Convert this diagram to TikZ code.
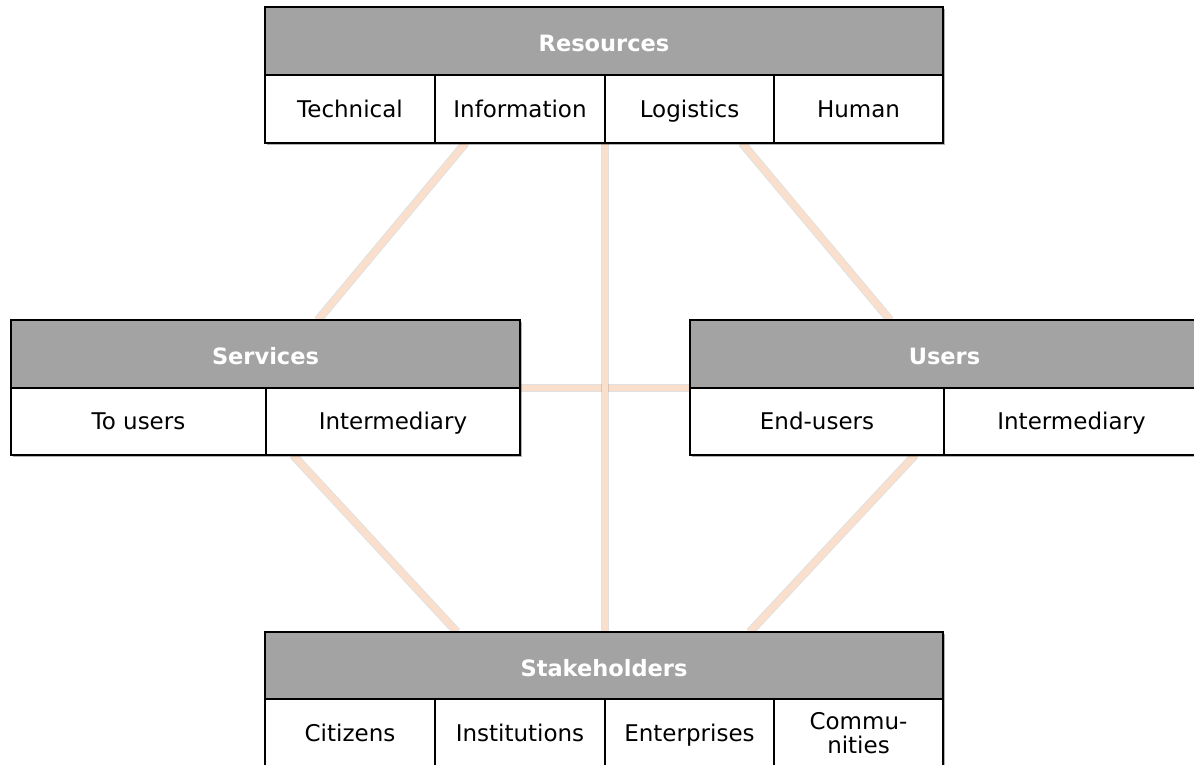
\documentclass[tikz,border=0pt]{standalone}
\usepackage{fontspec}
\setmainfont{DejaVu Sans}
\usetikzlibrary{calc,shadows}
\definecolor{hdrgray}{HTML}{A3A3A3}
\definecolor{linkpeach}{HTML}{FAE0CC}
\pgfdeclarelayer{bg}
\pgfsetlayers{bg,main}

\begin{document}
\begin{tikzpicture}[x=1pt,y=-1pt,
  boxshadow/.style={drop shadow={shadow xshift=1.5pt, shadow yshift=-1.5pt, opacity=0.3, fill=black}},
  hdr/.style={draw=black, line width=1.8pt, fill=hdrgray, text=white,
    font=\fontsize{22.5}{24}\selectfont\bfseries, minimum height=68,
    text height=21pt, text depth=0pt,
    inner sep=0pt, outer sep=0pt, anchor=north west, boxshadow},
  cellbase/.style={draw=black, line width=1.8pt, fill=white,
    font=\fontsize{23}{23.5}\selectfont, minimum height=68, align=center,
    inner sep=0pt, outer sep=0pt, anchor=north west, boxshadow},
  cell/.style={cellbase, text height=16.8pt, text depth=0pt},
  link/.style={draw=linkpeach, line width=6.5pt,
    preaction={draw=black, opacity=0.12, line width=8.5pt}}
]
\useasboundingbox (0,0) rectangle (1194,764);
\clip (0,0) rectangle (1194,764);

% Resources table
\node[hdr, minimum width=678] (res) at (265,7) {Resources};
\node[cell, minimum width=170] (resTech) at (265,75) {Technical};
\node[cell, minimum width=170] (resInfo) at (435,75) {Information};
\node[cell, minimum width=169] (resLog) at (605,75) {Logistics};
\node[cell, minimum width=169] (resHum) at (774,75) {Human};

% Services table
\node[hdr, minimum width=509] (srv) at (11,320) {Services};
\node[cell, minimum width=255, minimum height=67] (srvUsr) at (11,388) {To users};
\node[cell, minimum width=254, minimum height=67] (srvInt) at (266,388) {Intermediary};

% Users table
\node[hdr, minimum width=509] (usr) at (690,320) {Users};
\node[cell, minimum width=254, minimum height=67] (usrEnd) at (690,388) {End-users};
\node[cell, minimum width=255, minimum height=67] (usrInt) at (944,388) {Intermediary};

% Stakeholders table
\node[hdr, minimum width=678, minimum height=67] (stk) at (265,632) {Stakeholders};
\node[cell, minimum width=170] (stkCit) at (265,699) {Citizens};
\node[cell, minimum width=170] (stkIns) at (435,699) {Institutions};
\node[cell, minimum width=169] (stkEnt) at (605,699) {Enterprises};
\node[cellbase, minimum width=169] (stkCom) at (774,699) {Commu-\\nities};

% Connectors behind the tables
\begin{pgfonlayer}{bg}
\draw[link] ($(resInfo.south west)!0.18!(resInfo.south east)$) -- ($(srv.north west)!0.603!(srv.north east)$);
\draw[link] ($(resLog.south west)!0.81!(resLog.south east)$) -- ($(usr.north west)!0.393!(usr.north east)$);
\draw[link] (srv.south east) -- (usr.south west);
\draw[link] (resInfo.south east) -- (resInfo.south east |- stk.north);
\draw[link] ($(srvInt.south west)!0.106!(srvInt.south east)$) -- ($(stk.north west)!0.283!(stk.north east)$);
\draw[link] ($(usrEnd.south west)!0.886!(usrEnd.south east)$) -- ($(stk.north west)!0.715!(stk.north east)$);
\end{pgfonlayer}
\end{tikzpicture}
\end{document}
